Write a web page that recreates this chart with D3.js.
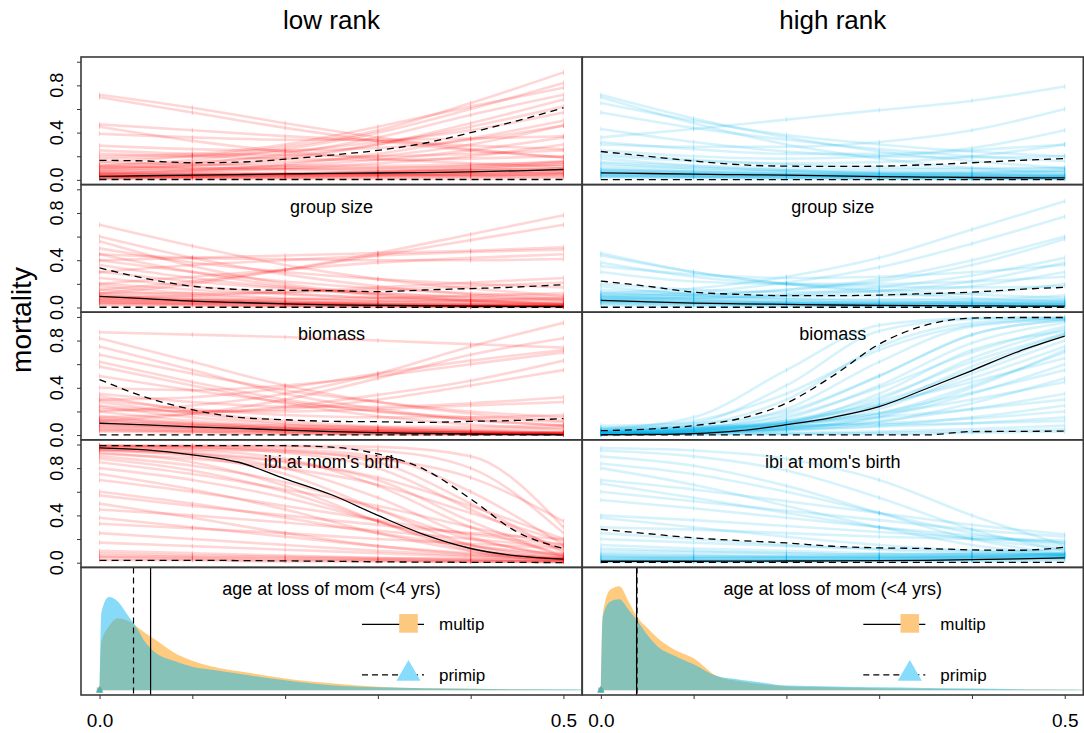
<!DOCTYPE html>
<html>
<head>
<meta charset="utf-8">
<script src="https://cdn.jsdelivr.net/npm/d3@7"></script>
<style>
  body { margin: 0; background: #fff; }
  svg { display: block; }
  text { font-family: "Liberation Sans", Arial, Helvetica, sans-serif; fill: #000; }
</style>
</head>
<body>
<svg id="chart" width="1084" height="733"></svg>
<script>
// Posterior mortality curves by rank, with age-at-loss densities underneath

const colTitles = ["low rank", "high rank"];
const rowLabels = ["", "group size", "biomass", "ibi at mom's birth", "age at loss of mom (<4 yrs)"];

// x positions of the sampled curves and of the summary lines
const DRAW_X = [0, 0.1, 0.2, 0.3, 0.4, 0.5];
const CURVE_X = [0, 0.05, 0.1, 0.15, 0.2, 0.25, 0.3, 0.35, 0.4, 0.45, 0.5];
const X_TICKS = [0, 0.1, 0.2, 0.3, 0.4, 0.5];
const Y_TICKS = [0, 0.2, 0.4, 0.6, 0.8, 1];

// ---- low rank ----
const lowInterceptDraws = [
  [0.72,0.61,0.48,0.36,0.26,0.19],[0.70,0.57,0.44,0.33,0.25,0.19],[0.47,0.42,0.37,0.33,0.29,0.26],
  [0.45,0.33,0.24,0.18,0.14,0.11],[0.39,0.36,0.34,0.34,0.35,0.37],[0.29,0.26,0.25,0.27,0.34,0.46],
  [0.15,0.20,0.28,0.42,0.65,0.91],[0.12,0.17,0.26,0.40,0.60,0.82],[0.20,0.22,0.30,0.45,0.62,0.78],
  [0.10,0.14,0.22,0.36,0.55,0.72],[0.08,0.12,0.18,0.30,0.48,0.68],[0.12,0.15,0.20,0.30,0.45,0.62],
  [0.18,0.20,0.24,0.32,0.42,0.57],[0.05,0.08,0.13,0.22,0.35,0.50],[0.10,0.12,0.15,0.20,0.30,0.46],
  [0.07,0.09,0.12,0.17,0.25,0.36],[0.05,0.07,0.10,0.14,0.20,0.30],[0.25,0.22,0.21,0.20,0.22,0.25],
  [0.22,0.20,0.18,0.17,0.18,0.20],[0.10,0.10,0.10,0.10,0.11,0.13],[0.06,0.06,0.06,0.07,0.08,0.10],
  [0.03,0.03,0.04,0.04,0.05,0.06],[0.02,0.02,0.02,0.03,0.03,0.04],[0.15,0.13,0.12,0.12,0.13,0.15],
  [0.08,0.08,0.09,0.10,0.12,0.16],[0.04,0.05,0.05,0.06,0.08,0.10],[0.01,0.01,0.01,0.01,0.01,0.02],
  [0.12,0.10,0.09,0.08,0.08,0.09],[0.05,0.04,0.04,0.04,0.04,0.05],[0.03,0.04,0.05,0.07,0.10,0.15],
  [0.02,0.03,0.04,0.06,0.09,0.13],[0.04,0.04,0.05,0.05,0.06,0.07],[0.02,0.03,0.03,0.04,0.05,0.06],
  [0.06,0.05,0.05,0.05,0.06,0.08],[0.03,0.03,0.03,0.04,0.04,0.05],[0.01,0.02,0.02,0.02,0.03,0.03]
];
const lowInterceptMedian = [0.03,0.035,0.04,0.045,0.05,0.055,0.058,0.062,0.068,0.077,0.088];
const lowInterceptLower = [0.003,0.003,0.003,0.003,0.003,0.003,0.003,0.003,0.003,0.003,0.003];
const lowInterceptUpper = [0.165,0.16,0.145,0.15,0.175,0.21,0.25,0.31,0.4,0.5,0.61];

const lowGroupDraws = [
  [0.70,0.52,0.36,0.24,0.16,0.10],[0.60,0.42,0.28,0.18,0.11,0.07],[0.56,0.35,0.20,0.11,0.06,0.03],
  [0.50,0.38,0.30,0.24,0.20,0.17],[0.45,0.30,0.18,0.10,0.06,0.03],[0.40,0.30,0.22,0.16,0.12,0.09],
  [0.36,0.25,0.17,0.12,0.08,0.06],[0.30,0.22,0.16,0.12,0.09,0.07],[0.25,0.18,0.12,0.08,0.05,0.03],
  [0.20,0.15,0.11,0.08,0.06,0.05],[0.15,0.10,0.07,0.05,0.03,0.02],[0.10,0.07,0.05,0.03,0.02,0.01],
  [0.08,0.05,0.03,0.02,0.01,0.01],[0.05,0.03,0.02,0.01,0.01,0.01],[0.03,0.02,0.01,0.01,0.005,0.005],
  [0.12,0.20,0.32,0.46,0.62,0.78],[0.15,0.22,0.32,0.44,0.57,0.70],[0.40,0.42,0.44,0.46,0.48,0.51],
  [0.30,0.36,0.40,0.44,0.47,0.49],[0.20,0.26,0.32,0.38,0.42,0.45],[0.45,0.42,0.41,0.40,0.40,0.41],
  [0.08,0.10,0.13,0.17,0.21,0.25],[0.12,0.12,0.13,0.15,0.18,0.21],[0.06,0.06,0.07,0.08,0.10,0.12],
  [0.04,0.04,0.04,0.05,0.06,0.08],[0.18,0.12,0.08,0.06,0.04,0.03],[0.09,0.06,0.04,0.03,0.02,0.02],
  [0.02,0.02,0.01,0.01,0.01,0.01],[0.10,0.06,0.04,0.02,0.01,0.01],[0.07,0.05,0.03,0.02,0.02,0.01],
  [0.12,0.08,0.05,0.03,0.02,0.02],[0.04,0.03,0.02,0.02,0.01,0.01],[0.06,0.04,0.03,0.03,0.03,0.03]
];
const lowGroupMedian = [0.094,0.075,0.054,0.042,0.03,0.022,0.017,0.014,0.011,0.01,0.009];
const lowGroupLower = [0.002,0.002,0.002,0.002,0.002,0.002,0.002,0.002,0.002,0.002,0.002];
const lowGroupUpper = [0.335,0.245,0.18,0.153,0.145,0.142,0.134,0.148,0.16,0.173,0.193];

const lowBiomassDraws = [
  [0.87,0.85,0.83,0.80,0.77,0.74],[0.82,0.62,0.42,0.28,0.18,0.12],[0.75,0.55,0.35,0.22,0.13,0.08],
  [0.68,0.52,0.38,0.28,0.20,0.15],[0.62,0.45,0.30,0.20,0.13,0.08],[0.58,0.42,0.27,0.16,0.09,0.05],
  [0.50,0.38,0.28,0.20,0.15,0.11],[0.20,0.25,0.35,0.52,0.75,0.95],[0.12,0.18,0.30,0.48,0.68,0.82],
  [0.30,0.32,0.40,0.52,0.63,0.72],[0.40,0.38,0.42,0.50,0.60,0.70],[0.15,0.18,0.24,0.34,0.46,0.63],
  [0.25,0.20,0.22,0.30,0.42,0.55],[0.35,0.28,0.24,0.24,0.27,0.32],[0.22,0.20,0.20,0.22,0.25,0.28],
  [0.30,0.22,0.17,0.15,0.15,0.17],[0.33,0.20,0.12,0.07,0.04,0.02],[0.28,0.18,0.10,0.06,0.03,0.02],
  [0.24,0.15,0.09,0.05,0.03,0.02],[0.20,0.12,0.07,0.04,0.02,0.01],[0.16,0.10,0.06,0.03,0.02,0.01],
  [0.12,0.08,0.05,0.03,0.02,0.01],[0.10,0.06,0.04,0.02,0.01,0.01],[0.07,0.05,0.03,0.02,0.01,0.005],
  [0.05,0.03,0.02,0.01,0.005,0.003],[0.14,0.10,0.08,0.07,0.07,0.08],[0.09,0.07,0.06,0.05,0.05,0.06],
  [0.03,0.02,0.01,0.01,0.005,0.003],[0.11,0.08,0.05,0.03,0.02,0.01],[0.08,0.06,0.04,0.03,0.02,0.02],
  [0.06,0.04,0.03,0.02,0.02,0.02],[0.04,0.03,0.02,0.01,0.01,0.01],[0.13,0.09,0.06,0.04,0.03,0.03]
];
const lowBiomassMedian = [0.1,0.086,0.07,0.056,0.042,0.03,0.02,0.014,0.009,0.006,0.004];
const lowBiomassLower = [0.002,0.002,0.002,0.002,0.002,0.002,0.002,0.002,0.002,0.002,0.002];
const lowBiomassUpper = [0.47,0.32,0.215,0.15,0.13,0.116,0.113,0.107,0.116,0.124,0.139];

const lowIbiDraws = [
  [0.99,0.99,0.98,0.95,0.80,0.25],[0.99,0.98,0.96,0.90,0.60,0.15],[0.98,0.97,0.93,0.80,0.45,0.10],
  [0.97,0.95,0.88,0.65,0.30,0.07],[0.96,0.92,0.80,0.55,0.22,0.05],[0.95,0.90,0.75,0.45,0.15,0.04],
  [0.93,0.85,0.65,0.35,0.10,0.02],[0.90,0.82,0.68,0.45,0.20,0.06],[0.88,0.78,0.60,0.35,0.12,0.03],
  [0.85,0.75,0.62,0.48,0.30,0.15],[0.80,0.70,0.55,0.35,0.15,0.05],[0.75,0.62,0.45,0.25,0.10,0.03],
  [0.70,0.60,0.48,0.36,0.24,0.15],[0.60,0.50,0.38,0.25,0.14,0.07],[0.57,0.48,0.40,0.32,0.25,0.20],
  [0.50,0.38,0.25,0.14,0.07,0.03],[0.45,0.40,0.34,0.27,0.20,0.13],[0.38,0.30,0.22,0.14,0.08,0.04],
  [0.33,0.29,0.25,0.20,0.16,0.12],[0.25,0.20,0.15,0.10,0.06,0.03],[0.17,0.14,0.11,0.08,0.05,0.03],
  [0.10,0.08,0.06,0.04,0.03,0.02],[0.05,0.04,0.03,0.02,0.01,0.01],[0.02,0.02,0.01,0.01,0.01,0.005],
  [0.99,0.99,0.99,0.98,0.90,0.30],[0.97,0.96,0.94,0.88,0.72,0.35],[0.92,0.88,0.80,0.66,0.42,0.18],
  [0.96,0.93,0.86,0.72,0.48,0.20],[0.08,0.06,0.05,0.04,0.03,0.02],[0.04,0.03,0.02,0.02,0.01,0.01],
  [0.99,0.98,0.95,0.85,0.50,0.08],[0.95,0.92,0.85,0.70,0.35,0.05],[0.06,0.05,0.04,0.03,0.02,0.01]
];
const lowIbiMedian = [0.972,0.955,0.913,0.85,0.71,0.575,0.4,0.237,0.12,0.057,0.03];
const lowIbiLower = [0.02,0.02,0.02,0.018,0.015,0.012,0.007,0.005,0.003,0.002,0.001];
const lowIbiUpper = [0.99,0.99,0.99,0.99,0.99,0.978,0.92,0.79,0.54,0.26,0.12];

// ---- high rank ----
const highInterceptDraws = [
  [0.72,0.52,0.36,0.24,0.16,0.10],[0.70,0.48,0.30,0.18,0.10,0.06],[0.65,0.50,0.38,0.30,0.24,0.20],
  [0.57,0.44,0.34,0.26,0.20,0.16],[0.36,0.43,0.51,0.59,0.67,0.79],[0.43,0.32,0.24,0.20,0.19,0.20],
  [0.30,0.28,0.28,0.32,0.42,0.60],[0.32,0.26,0.22,0.22,0.27,0.42],[0.25,0.20,0.18,0.20,0.25,0.30],
  [0.20,0.16,0.14,0.15,0.20,0.30],[0.22,0.17,0.13,0.11,0.10,0.10],[0.15,0.12,0.10,0.09,0.09,0.10],
  [0.12,0.10,0.08,0.07,0.07,0.08],[0.10,0.08,0.07,0.06,0.06,0.07],[0.08,0.07,0.06,0.05,0.05,0.05],
  [0.06,0.05,0.04,0.04,0.04,0.04],[0.05,0.04,0.03,0.02,0.02,0.02],[0.04,0.03,0.02,0.02,0.01,0.01],
  [0.03,0.02,0.02,0.01,0.01,0.01],[0.18,0.12,0.08,0.05,0.04,0.03],[0.14,0.10,0.08,0.06,0.05,0.04],
  [0.02,0.02,0.01,0.01,0.01,0.01],[0.09,0.07,0.05,0.04,0.03,0.03],[0.07,0.06,0.05,0.05,0.06,0.08],
  [0.05,0.04,0.04,0.03,0.03,0.03],[0.04,0.03,0.03,0.03,0.02,0.02],[0.08,0.06,0.05,0.04,0.04,0.04],
  [0.03,0.03,0.02,0.02,0.02,0.02],[0.06,0.05,0.04,0.03,0.02,0.02]
];
const highInterceptMedian = [0.06,0.054,0.048,0.044,0.04,0.034,0.028,0.024,0.02,0.018,0.017];
const highInterceptLower = [0.002,0.002,0.002,0.002,0.002,0.002,0.002,0.002,0.002,0.002,0.002];
const highInterceptUpper = [0.24,0.2,0.16,0.128,0.116,0.114,0.116,0.128,0.145,0.165,0.18];

const highGroupDraws = [
  [0.46,0.30,0.20,0.13,0.08,0.05],[0.44,0.30,0.20,0.15,0.11,0.08],[0.38,0.26,0.20,0.18,0.17,0.18],
  [0.35,0.28,0.25,0.26,0.30,0.36],[0.30,0.22,0.20,0.20,0.22,0.26],[0.12,0.16,0.26,0.42,0.66,0.90],
  [0.10,0.13,0.21,0.34,0.54,0.77],[0.08,0.10,0.15,0.24,0.40,0.60],[0.10,0.11,0.15,0.22,0.36,0.58],
  [0.06,0.08,0.11,0.17,0.27,0.42],[0.08,0.08,0.10,0.14,0.22,0.38],[0.20,0.15,0.13,0.14,0.18,0.30],
  [0.15,0.12,0.10,0.10,0.12,0.20],[0.12,0.09,0.07,0.06,0.06,0.07],[0.09,0.07,0.05,0.04,0.04,0.04],
  [0.07,0.05,0.04,0.03,0.03,0.03],[0.05,0.04,0.03,0.02,0.02,0.02],[0.04,0.03,0.02,0.02,0.01,0.01],
  [0.03,0.02,0.02,0.01,0.01,0.01],[0.02,0.01,0.01,0.01,0.01,0.01],[0.18,0.11,0.07,0.05,0.04,0.03],
  [0.13,0.10,0.08,0.07,0.07,0.10],[0.06,0.05,0.04,0.04,0.05,0.06],[0.06,0.04,0.03,0.02,0.02,0.02],
  [0.08,0.06,0.04,0.03,0.03,0.03],[0.04,0.03,0.03,0.02,0.02,0.02],[0.05,0.04,0.03,0.03,0.03,0.04],
  [0.10,0.07,0.05,0.04,0.04,0.05]
];
const highGroupMedian = [0.06,0.048,0.037,0.031,0.026,0.021,0.017,0.015,0.014,0.012,0.011];
const highGroupLower = [0.002,0.002,0.002,0.002,0.002,0.002,0.002,0.002,0.002,0.002,0.002];
const highGroupUpper = [0.224,0.18,0.13,0.11,0.1,0.1,0.105,0.117,0.13,0.153,0.17];

const highBiomassDraws = [
  [0.05,0.15,0.55,0.93,0.99,1.00],[0.04,0.10,0.42,0.88,0.98,0.99],[0.03,0.08,0.30,0.75,0.95,0.99],
  [0.03,0.06,0.22,0.62,0.92,0.98],[0.02,0.05,0.18,0.50,0.85,0.97],[0.02,0.04,0.14,0.42,0.78,0.95],
  [0.01,0.03,0.10,0.30,0.65,0.90],[0.01,0.03,0.10,0.35,0.72,0.88],[0.02,0.04,0.11,0.28,0.55,0.85],
  [0.01,0.02,0.07,0.22,0.52,0.80],[0.02,0.04,0.10,0.25,0.48,0.75],[0.01,0.02,0.06,0.18,0.42,0.70],
  [0.03,0.05,0.12,0.26,0.45,0.65],[0.01,0.02,0.05,0.15,0.35,0.60],[0.02,0.04,0.09,0.19,0.36,0.55],
  [0.01,0.02,0.04,0.11,0.27,0.48],[0.03,0.05,0.10,0.18,0.30,0.45],[0.02,0.03,0.06,0.12,0.22,0.35],
  [0.05,0.07,0.10,0.15,0.22,0.30],[0.01,0.02,0.04,0.08,0.15,0.25],[0.04,0.05,0.07,0.10,0.14,0.20],
  [0.02,0.03,0.05,0.07,0.10,0.15],[0.06,0.07,0.08,0.09,0.10,0.12],[0.01,0.01,0.02,0.03,0.05,0.08],
  [0.01,0.01,0.01,0.02,0.03,0.05],[0.00,0.01,0.01,0.01,0.02,0.03],[0.08,0.10,0.20,0.50,0.85,0.97],
  [0.06,0.12,0.35,0.72,0.93,0.98],[0.04,0.06,0.16,0.40,0.70,0.92],[0.03,0.05,0.12,0.32,0.62,0.86],
  [0.02,0.03,0.08,0.25,0.58,0.86],[0.01,0.02,0.05,0.16,0.40,0.72]
];
const highBiomassMedian = [0.003,0.005,0.012,0.037,0.088,0.15,0.24,0.39,0.546,0.707,0.837];
const highBiomassLower = [0.001,0.001,0.001,0.001,0.001,0.001,0.001,0.001,0.03,0.031,0.034];
const highBiomassUpper = [0.037,0.05,0.08,0.14,0.27,0.5,0.77,0.93,0.99,0.995,0.995];

const highIbiDraws = [
  [0.97,0.95,0.88,0.70,0.40,0.15],[0.95,0.90,0.78,0.55,0.28,0.10],[0.90,0.82,0.65,0.42,0.20,0.07],
  [0.84,0.75,0.60,0.42,0.25,0.14],[0.80,0.66,0.48,0.30,0.15,0.06],[0.70,0.62,0.52,0.42,0.32,0.24],
  [0.67,0.55,0.42,0.30,0.20,0.12],[0.60,0.52,0.44,0.36,0.28,0.22],[0.53,0.46,0.38,0.30,0.23,0.17],
  [0.40,0.36,0.31,0.26,0.21,0.17],[0.38,0.30,0.22,0.15,0.10,0.06],[0.30,0.28,0.25,0.22,0.20,0.19],
  [0.25,0.20,0.15,0.11,0.08,0.07],[0.20,0.17,0.14,0.12,0.10,0.10],[0.15,0.12,0.10,0.08,0.07,0.08],
  [0.10,0.09,0.08,0.07,0.07,0.08],[0.08,0.07,0.06,0.06,0.06,0.07],[0.06,0.05,0.05,0.05,0.05,0.06],
  [0.05,0.04,0.04,0.04,0.05,0.06],[0.04,0.04,0.04,0.04,0.04,0.05],[0.03,0.03,0.03,0.03,0.03,0.04],
  [0.02,0.02,0.02,0.02,0.03,0.04],[0.01,0.01,0.01,0.02,0.02,0.03],[0.01,0.01,0.01,0.01,0.01,0.02],
  [0.12,0.10,0.08,0.07,0.08,0.12],[0.03,0.03,0.03,0.04,0.05,0.07],[0.02,0.02,0.02,0.03,0.04,0.06],
  [0.05,0.05,0.05,0.05,0.06,0.08],[0.07,0.06,0.05,0.05,0.05,0.06],[0.01,0.01,0.02,0.02,0.03,0.05]
];
const highIbiMedian = [0.012,0.012,0.012,0.013,0.014,0.015,0.017,0.02,0.025,0.032,0.04];
const highIbiLower = [0.003,0.003,0.003,0.003,0.003,0.003,0.003,0.003,0.003,0.003,0.003];
const highIbiUpper = [0.282,0.246,0.21,0.187,0.167,0.139,0.125,0.12,0.108,0.105,0.13];

// ---- age at loss of mom: densities (multip vs primip) ----
const DENS_X = [0,0.002,0.01,0.02,0.03,0.04,0.05,0.06,0.08,0.1,0.125,0.15,0.175,0.2,0.25,0.3,0.35,0.4,0.45,0.5,0.52];
const lowMultipDens = [0,4.1,5.4,6.1,5.9,5.4,4.8,4.3,3.2,2.5,1.95,1.6,1.3,1.0,0.6,0.3,0.17,0.13,0.08,0.05,0.03];
const lowPrimipDens = [0,6.6,7.9,7.5,6.4,5.3,4.0,3.2,2.5,2.0,1.7,1.4,1.1,0.85,0.42,0.25,0.17,0.13,0.08,0.08,0.07];
const highMultipDens = [0,6.4,8.5,8.8,7.5,6.1,5.3,4.5,3.4,2.7,1.2,0.76,0.5,0.34,0.25,0.17,0.13,0.08,0.06,0.04,0.03];
const highPrimipDens = [0,6.2,7.5,7.7,6.8,5.8,4.7,3.8,2.9,2.2,1.2,0.9,0.64,0.4,0.32,0.25,0.2,0.14,0.09,0.06,0.04];
const multipMean = [0.055, 0.0385];
const primipMean = [0.0366, 0.039];
const legendLabels = ["multip", "primip"];

// ---- layout ----
const COL_LEFT = [81, 582.3];
const COL_W = 501;
const ROW_TOP = 57;
const ROW_H = 127.6;
const DRAW_COLORS = ["#ff0000", "#00b2ee"];
const MULTIP_COLOR = "#ff9900";
const PRIMIP_COLOR = "#10b8f4";

const svg = d3.select("#chart");
const defs = svg.append("defs");

function xScale(c) {
  return d3.scaleLinear().domain([-0.02, 0.52]).range([COL_LEFT[c], COL_LEFT[c] + COL_W]);
}
function rowTop(r) { return ROW_TOP + r * ROW_H; }
function yScale(r) {
  return d3.scaleLinear().domain([-0.04, 1.04]).range([rowTop(r) + ROW_H, rowTop(r)]);
}

function clipFor(c, r) {
  const id = `clip-${c}-${r}`;
  defs.append("clipPath").attr("id", id)
    .append("rect")
    .attr("x", COL_LEFT[c]).attr("y", rowTop(r))
    .attr("width", COL_W).attr("height", ROW_H);
  return `url(#${id})`;
}

const panels = [
  { col: 0, row: 0, draws: lowInterceptDraws, med: lowInterceptMedian, lo: lowInterceptLower, hi: lowInterceptUpper },
  { col: 0, row: 1, draws: lowGroupDraws, med: lowGroupMedian, lo: lowGroupLower, hi: lowGroupUpper },
  { col: 0, row: 2, draws: lowBiomassDraws, med: lowBiomassMedian, lo: lowBiomassLower, hi: lowBiomassUpper },
  { col: 0, row: 3, draws: lowIbiDraws, med: lowIbiMedian, lo: lowIbiLower, hi: lowIbiUpper },
  { col: 1, row: 0, draws: highInterceptDraws, med: highInterceptMedian, lo: highInterceptLower, hi: highInterceptUpper },
  { col: 1, row: 1, draws: highGroupDraws, med: highGroupMedian, lo: highGroupLower, hi: highGroupUpper },
  { col: 1, row: 2, draws: highBiomassDraws, med: highBiomassMedian, lo: highBiomassLower, hi: highBiomassUpper },
  { col: 1, row: 3, draws: highIbiDraws, med: highIbiMedian, lo: highIbiLower, hi: highIbiUpper }
];

function panelLabel(c, r) {
  if (!rowLabels[r]) return;
  svg.append("text")
    .attr("x", COL_LEFT[c] + COL_W / 2)
    .attr("y", rowTop(r) + 28)
    .attr("text-anchor", "middle")
    .attr("font-size", "18px")
    .text(rowLabels[r]);
}

function drawCurvePanel(p) {
  const x = xScale(p.col);
  const y = yScale(p.row);
  panelLabel(p.col, p.row);

  const g = svg.append("g").attr("clip-path", clipFor(p.col, p.row));
  const color = DRAW_COLORS[p.col];

  const drawLine = d3.line()
    .x((d, i) => x(DRAW_X[i]))
    .y(d => y(d))
    .curve(d3.curveMonotoneX);

  g.selectAll("path.draw")
    .data(p.draws)
    .join("path")
    .attr("class", "draw")
    .attr("d", drawLine)
    .attr("fill", "none")
    .attr("stroke", color)
    .attr("stroke-opacity", 0.16)
    .attr("stroke-width", 2.6);

  // little vertical marks at each sampled x
  const marks = p.draws.flatMap(d => d.map((v, i) => [DRAW_X[i], v]));
  g.selectAll("line.mark")
    .data(marks)
    .join("line")
    .attr("class", "mark")
    .attr("x1", d => x(d[0])).attr("x2", d => x(d[0]))
    .attr("y1", d => y(d[1]) - 2.5).attr("y2", d => y(d[1]) + 2.5)
    .attr("stroke", color)
    .attr("stroke-opacity", 0.2)
    .attr("stroke-width", 1);

  const summary = d3.line()
    .x((d, i) => x(CURVE_X[i]))
    .y(d => y(d))
    .curve(d3.curveMonotoneX);

  g.append("path").attr("d", summary(p.med))
    .attr("fill", "none").attr("stroke", "#000").attr("stroke-width", 1.3);
  [p.lo, p.hi].forEach(s => {
    g.append("path").attr("d", summary(s))
      .attr("fill", "none").attr("stroke", "#000").attr("stroke-width", 1.3)
      .attr("stroke-dasharray", "7,5");
  });
}

panels.forEach(drawCurvePanel);

// ---- density panels ----
const densSets = [
  { multip: lowMultipDens, primip: lowPrimipDens },
  { multip: highMultipDens, primip: highPrimipDens }
];

densSets.forEach((ds, c) => {
  const r = 4;
  const x = xScale(c);
  const yd = d3.scaleLinear().domain([-0.4, 10.4]).range([rowTop(r) + ROW_H, rowTop(r)]);
  panelLabel(c, r);

  const g = svg.append("g").attr("clip-path", clipFor(c, r));
  const area = d3.area()
    .x((d, i) => x(DENS_X[i]))
    .y0(yd(0))
    .y1(d => yd(d))
    .curve(d3.curveMonotoneX);

  g.append("path").attr("d", area(ds.multip))
    .attr("fill", MULTIP_COLOR).attr("fill-opacity", 0.5);
  g.append("path").attr("d", area(ds.primip))
    .attr("fill", PRIMIP_COLOR).attr("fill-opacity", 0.5);

  // mean age lines
  g.append("line")
    .attr("x1", x(multipMean[c])).attr("x2", x(multipMean[c]))
    .attr("y1", rowTop(r)).attr("y2", rowTop(r) + ROW_H)
    .attr("stroke", "#000").attr("stroke-width", 1.2);
  g.append("line")
    .attr("x1", x(primipMean[c])).attr("x2", x(primipMean[c]))
    .attr("y1", rowTop(r)).attr("y2", rowTop(r) + ROW_H)
    .attr("stroke", "#000").attr("stroke-width", 1.2)
    .attr("stroke-dasharray", "6,4");

  // origin points
  g.append("path")
    .attr("transform", `translate(${x(0)},${yd(0)})`)
    .attr("d", d3.symbol(d3.symbolSquare, 30)())
    .attr("fill", MULTIP_COLOR).attr("fill-opacity", 0.8);
  g.append("path")
    .attr("transform", `translate(${x(0)},${yd(0)})`)
    .attr("d", d3.symbol(d3.symbolTriangle, 26)())
    .attr("fill", PRIMIP_COLOR).attr("fill-opacity", 0.8);

  // legend
  const lx = COL_LEFT[c];
  const top = rowTop(r);
  const leg = svg.append("g");
  leg.append("line")
    .attr("x1", lx + 281).attr("x2", lx + 343)
    .attr("y1", top + 57).attr("y2", top + 57)
    .attr("stroke", "#000").attr("stroke-width", 1.2);
  leg.append("path")
    .attr("transform", `translate(${lx + 327.5},${top + 56})`)
    .attr("d", d3.symbol(d3.symbolSquare, 346)())
    .attr("fill", "#fdc880");
  leg.append("line")
    .attr("x1", lx + 281).attr("x2", lx + 343)
    .attr("y1", top + 107.5).attr("y2", top + 107.5)
    .attr("stroke", "#000").attr("stroke-width", 1.2)
    .attr("stroke-dasharray", "6,4");
  leg.append("path")
    .attr("transform", `translate(${lx + 327.5},${top + 106.5})`)
    .attr("d", d3.symbol(d3.symbolTriangle, 250)())
    .attr("fill", "#87dcfb");
  legendLabels.forEach((t, i) => {
    leg.append("text")
      .attr("x", lx + 358)
      .attr("y", top + 57 + i * 50.5)
      .attr("dy", "0.35em")
      .attr("font-size", "17px")
      .text(t);
  });
});

// ---- frames ----
for (let c = 0; c < 2; c++) {
  for (let r = 0; r < 5; r++) {
    svg.append("rect")
      .attr("x", COL_LEFT[c]).attr("y", rowTop(r))
      .attr("width", COL_W).attr("height", ROW_H)
      .attr("fill", "none").attr("stroke", "#3a3a3a").attr("stroke-width", 1.6);
  }
}

// ---- y axes (left column, curve rows) ----
for (let r = 0; r < 4; r++) {
  const y = yScale(r);
  const ax = svg.append("g")
    .attr("transform", `translate(${COL_LEFT[0]},0)`)
    .call(d3.axisLeft(y).tickValues(Y_TICKS).tickSize(4).tickFormat(""));
  ax.select(".domain").remove();
  ax.selectAll("line").attr("stroke", "#333");
  svg.selectAll(null)
    .data([0, 0.4, 0.8])
    .join("text")
    .attr("transform", d => `translate(63,${y(d)}) rotate(-90)`)
    .attr("text-anchor", "middle")
    .attr("font-size", "18px")
    .text(d => d3.format(".1f")(d));
}

// ---- x axes ----
for (let c = 0; c < 2; c++) {
  const x = xScale(c);
  const ax = svg.append("g")
    .attr("transform", `translate(0,${rowTop(5)})`)
    .call(d3.axisBottom(x).tickValues(X_TICKS).tickSize(4).tickPadding(15)
      .tickFormat(d => (d === 0 || d === 0.5) ? d3.format(".1f")(d) : ""));
  ax.select(".domain").remove();
  ax.selectAll("line").attr("stroke", "#333");
  ax.selectAll("text")
    .attr("font-size", "19px")
    .attr("font-family", "Liberation Sans, Arial, sans-serif")
    .attr("fill", "#000");
}

// ---- titles ----
colTitles.forEach((t, c) => {
  svg.append("text")
    .attr("x", COL_LEFT[c] + COL_W / 2)
    .attr("y", 29)
    .attr("text-anchor", "middle")
    .attr("font-size", "26px")
    .text(t);
});

svg.append("text")
  .attr("transform", `translate(31,${rowTop(0) + 2.5 * ROW_H - 56}) rotate(-90)`)
  .attr("text-anchor", "middle")
  .attr("font-size", "28px")
  .text("mortality");
</script>
</body>
</html>
